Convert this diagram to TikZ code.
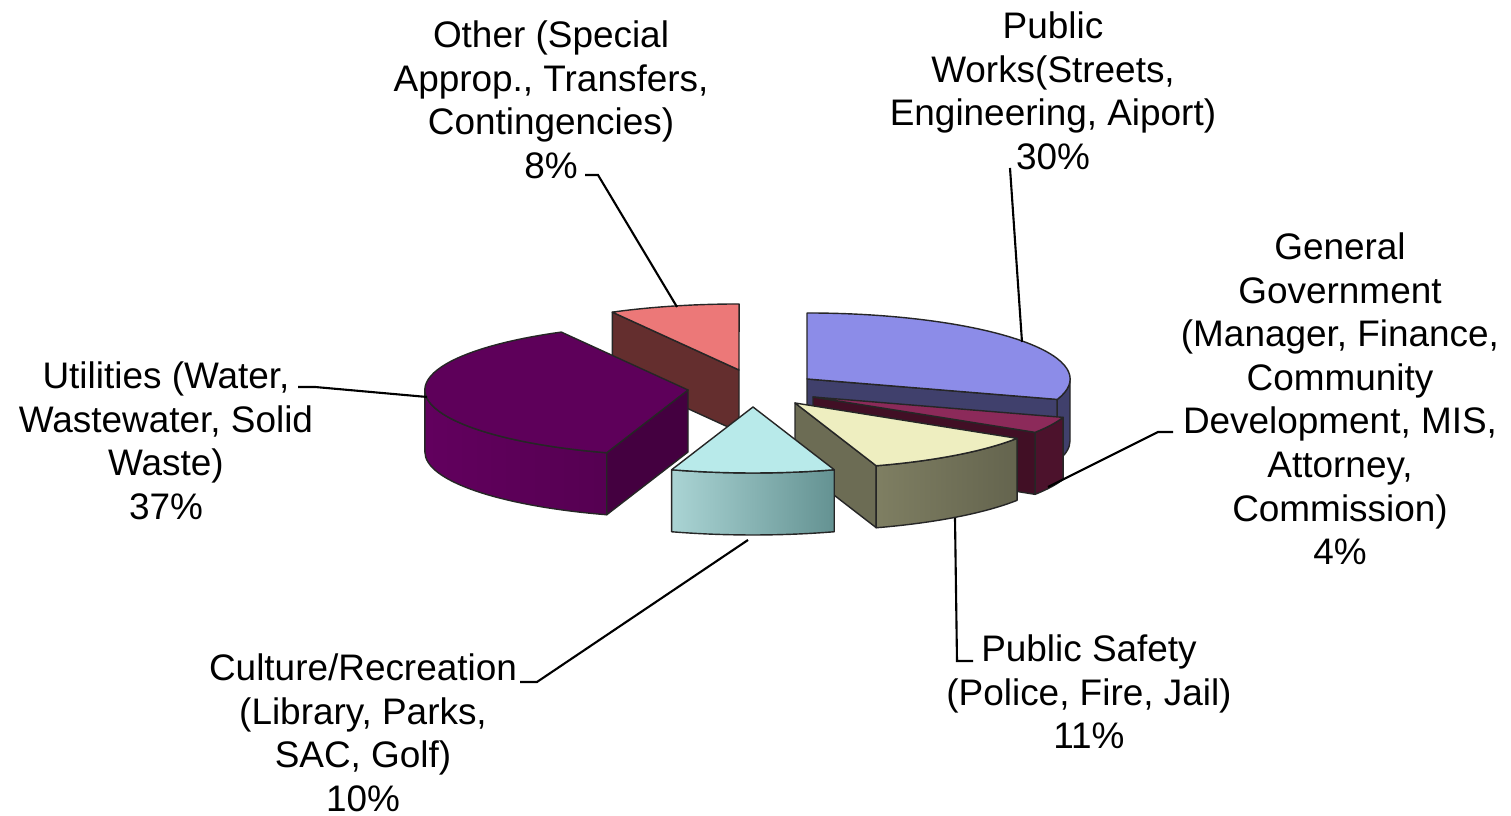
\documentclass[tikz,border=0pt]{standalone}
\usepackage{fontspec}
\setmainfont{Liberation Sans}
\usepackage{xcolor}

\definecolor{pwTop}{RGB}{140,140,232}
\definecolor{pwSide}{RGB}{64,64,108}
\definecolor{ggTop}{RGB}{140,42,90}
\definecolor{ggSide}{RGB}{76,18,44}
\definecolor{psTop}{RGB}{238,238,192}
\definecolor{psSideL}{RGB}{142,142,110}
\definecolor{psSideR}{RGB}{100,100,78}
\definecolor{psFace}{RGB}{108,108,84}
\definecolor{crTop}{RGB}{184,234,234}
\definecolor{crSideL}{RGB}{170,212,212}
\definecolor{crSideR}{RGB}{100,146,146}
\definecolor{utTop}{RGB}{94,0,90}
\definecolor{utSideL}{RGB}{98,0,94}
\definecolor{utSideR}{RGB}{80,0,76}
\definecolor{utFace}{RGB}{68,0,64}
\definecolor{otTop}{RGB}{236,120,120}
\definecolor{otSide}{RGB}{100,46,46}

\begin{document}
\begin{tikzpicture}
[x=0.01cm, y=0.01cm,
 sliceDecorate/.style={draw=black!85, line width=0.4pt, line join=round},
 leaderDecorate/.style={draw=black, line width=0.6pt},
 labelDecorate/.style={align=center, inner sep=0pt, anchor=north, font=\fontsize{10.5}{12.4}\selectfont},
 rim/.style={x radius=2.63cm, y radius=0.66cm}]

 \useasboundingbox (0,0) rectangle (1511,816);

 % apex of each slice
 \coordinate (Oth) at (739,446);
 \coordinate (PW) at (807,437);
 \coordinate (Ut) at (688,426);
 \coordinate (GG) at (813,419);
 \coordinate (PS) at (795,413);
 \coordinate (CR) at (753,409);

 % Other
 \filldraw[sliceDecorate, fill=otSide] (Oth) -- ++(118.8:263 and 66) -- ++(0,-62) -- ++(298.8:263 and 66) -- cycle;
 \filldraw[sliceDecorate, fill=otTop] (Oth) -- ++(118.8:263 and 66) arc[rim, start angle=118.8, end angle=90] -- cycle;

 % Public Works
 \filldraw[sliceDecorate, fill=pwSide] (PW) ++(0:263 and 66) arc[rim, start angle=0, end angle=-18] -- ++(0,-62) arc[rim, start angle=-18, end angle=0] -- cycle;
 \filldraw[sliceDecorate, fill=pwSide] (PW) -- ++(-18:263 and 66) -- ++(0,-62) -- ++(162:263 and 66) -- cycle;
 \filldraw[sliceDecorate, fill=pwTop] (PW) -- ++(90:263 and 66) arc[rim, start angle=90, end angle=-18] -- cycle;

 % Utilities
 \shadedraw[sliceDecorate, left color=utSideL, right color=utSideR] (Ut) ++(252:263 and 66) arc[rim, start angle=252, end angle=180] -- ++(0,-62) arc[rim, start angle=180, end angle=252] -- cycle;
 \filldraw[sliceDecorate, fill=utFace] (Ut) -- ++(252:263 and 66) -- ++(0,-62) -- ++(72:263 and 66) -- cycle;
 \filldraw[sliceDecorate, fill=utTop] (Ut) -- ++(252:263 and 66) arc[rim, start angle=252, end angle=118.8] -- cycle;

 % General Government
 \filldraw[sliceDecorate, fill=ggSide] (GG) ++(-18:263 and 66) arc[rim, start angle=-18, end angle=-32.4] -- ++(0,-62) arc[rim, start angle=-32.4, end angle=-18] -- cycle;
 \filldraw[sliceDecorate, fill=ggSide!85!black] (GG) -- ++(-32.4:263 and 66) -- ++(0,-62) -- ++(147.6:263 and 66) -- cycle;
 \filldraw[sliceDecorate, fill=ggTop] (GG) -- ++(-18:263 and 66) arc[rim, start angle=-18, end angle=-32.4] -- cycle;

 % Public Safety
 \filldraw[sliceDecorate, fill=psFace] (PS) -- ++(-72:263 and 66) -- ++(0,-62) -- ++(108:263 and 66) -- cycle;
 \shadedraw[sliceDecorate, left color=psSideL, right color=psSideR] (PS) ++(-32.4:263 and 66) arc[rim, start angle=-32.4, end angle=-72] -- ++(0,-62) arc[rim, start angle=-72, end angle=-32.4] -- cycle;
 \filldraw[sliceDecorate, fill=psTop] (PS) -- ++(-32.4:263 and 66) arc[rim, start angle=-32.4, end angle=-72] -- cycle;

 % Culture/Recreation
 \shadedraw[sliceDecorate, left color=crSideL, right color=crSideR] (CR) ++(-72:263 and 66) arc[rim, start angle=-72, end angle=-108] -- ++(0,-62) arc[rim, start angle=-108, end angle=-72] -- cycle;
 \filldraw[sliceDecorate, fill=crTop] (CR) -- ++(-72:263 and 66) arc[rim, start angle=-72, end angle=-108] -- cycle;

 % labels
 \node[labelDecorate] (othLabel) at (551,796) {Other (Special\\Approp., Transfers,\\Contingencies)\\8\%};
 \node[labelDecorate] (pwLabel) at (1053,805) {Public\\Works(Streets,\\Engineering, Aiport)\\30\%};
 \node[labelDecorate] (ggLabel) at (1340,584) {General\\Government\\(Manager, Finance,\\Community\\Development, MIS,\\Attorney,\\Commission)\\4\%};
 \node[labelDecorate] (psLabel) at (1089,182) {Public Safety\\(Police, Fire, Jail)\\11\%};
 \node[labelDecorate] (crLabel) at (363,163) {Culture/Recreation\\(Library, Parks,\\SAC, Golf)\\10\%};
 \node[labelDecorate] (utLabel) at (166,455) {Utilities (Water,\\Wastewater, Solid\\Waste)\\37\%};

 % leader lines
 \coordinate (othA) at (677,509);
 \coordinate (othB) at (598,641);
 \coordinate (pwA) at (1022,474);
 \coordinate (pwB) at (1010,648);
 \coordinate (ggA) at (1048,329);
 \coordinate (ggB) at (1158,384);
 \coordinate (psA) at (955,298);
 \coordinate (psB) at (957,155);
 \coordinate (crA) at (748,276);
 \coordinate (crB) at (537,134);
 \coordinate (utA) at (427,419);
 \coordinate (utB) at (315,429);

 \draw[leaderDecorate] (othA) -- (othB) -- ++(-13,0);
 \draw[leaderDecorate] (pwA) -- (pwB);
 \draw[leaderDecorate] (ggA) -- (ggB) -- ++(15,0);
 \draw[leaderDecorate] (psA) -- (psB) -- ++(16,0);
 \draw[leaderDecorate] (crA) -- (crB) -- ++(-17,0);
 \draw[leaderDecorate] (utA) -- (utB) -- ++(-17,0);

\end{tikzpicture}
\end{document}
